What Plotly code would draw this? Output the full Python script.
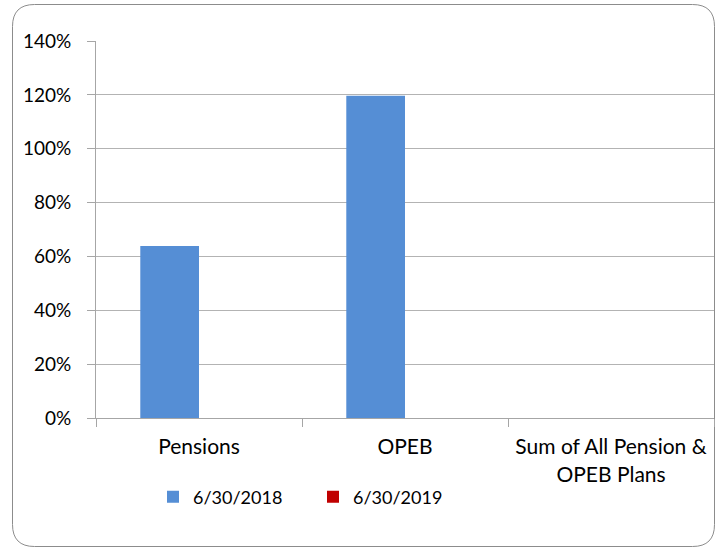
import plotly.graph_objects as go

categories = ["Pensions", "OPEB", "Sum of All Pension &<br>OPEB Plans"]
series_2018 = [0.639, 1.197, None]
series_2019 = [None, None, None]
y_ticks = [0, 0.2, 0.4, 0.6, 0.8, 1.0, 1.2, 1.4]
y_tick_labels = ["0%", "20%", "40%", "60%", "80%", "100%", "120%", "140%"]

W, H = 727, 548
ML, MR, MT, MB = 96, 13, 41, 130
PW, PH = W - ML - MR, H - MT - MB

def px(x):
    return (x - ML) / PW

def py(y):
    return (H - MB - y) / PH

FONT = "Lato"

fig = go.Figure()
fig.add_trace(go.Bar(name="6/30/2018", x=categories, y=series_2018,
                     marker=dict(color="#558ED5", line=dict(width=0))))
fig.add_trace(go.Bar(name="6/30/2019", x=categories, y=series_2019,
                     marker=dict(color="#C00000", line=dict(width=0))))

# rounded border
x0, x1, y0, y1, r = 12.5, 714.5, 4.5, 546.5, 22
path = (f"M {px(x0+r)},{py(y0)} L {px(x1-r)},{py(y0)} "
        f"Q {px(x1)},{py(y0)} {px(x1)},{py(y0+r)} "
        f"L {px(x1)},{py(y1-r)} Q {px(x1)},{py(y1)} {px(x1-r)},{py(y1)} "
        f"L {px(x0+r)},{py(y1)} Q {px(x0)},{py(y1)} {px(x0)},{py(y1-r)} "
        f"L {px(x0)},{py(y0+r)} Q {px(x0)},{py(y0)} {px(x0+r)},{py(y0)} Z")

fig.update_layout(
    width=W, height=H,
    margin=dict(l=ML, r=MR, t=MT, b=MB),
    paper_bgcolor="white", plot_bgcolor="white",
    barmode="group", bargap=0.43, bargroupgap=0,
    font=dict(family=FONT, size=18, color="black"),
    showlegend=True,
    legend=dict(orientation="h", x=px(313), xanchor="center",
                y=py(497), yanchor="middle",
                font=dict(family=FONT, size=18, color="black"),
                itemwidth=30, traceorder="normal",
                entrywidth=115, entrywidthmode="pixels"),
    shapes=[dict(type="path", path=path, xref="paper", yref="paper",
                 line=dict(color="#8c8c8c", width=1), layer="below")],
)
fig.update_xaxes(showline=True, linecolor="#a6a6a6", linewidth=1,
                 ticks="outside", tickson="boundaries", ticklen=8,
                 tickcolor="#a6a6a6", showgrid=False, ticklabelstandoff=10,
                 tickfont=dict(family=FONT, size=21, color="black"))
fig.update_yaxes(range=[0, 1.4], tickvals=y_ticks, ticktext=y_tick_labels,
                 showline=True, linecolor="#a6a6a6", linewidth=1,
                 ticks="outside", ticklen=8, tickcolor="#a6a6a6",
                 showgrid=True, gridcolor="#b3b3b3", gridwidth=1,
                 zeroline=False, ticklabelstandoff=12,
                 tickfont=dict(family=FONT, size=19, color="black"))

fig.write_html("out.html", config={"displayModeBar": False},
               post_script="document.body.style.margin='0';document.body.style.overflow='hidden';")
